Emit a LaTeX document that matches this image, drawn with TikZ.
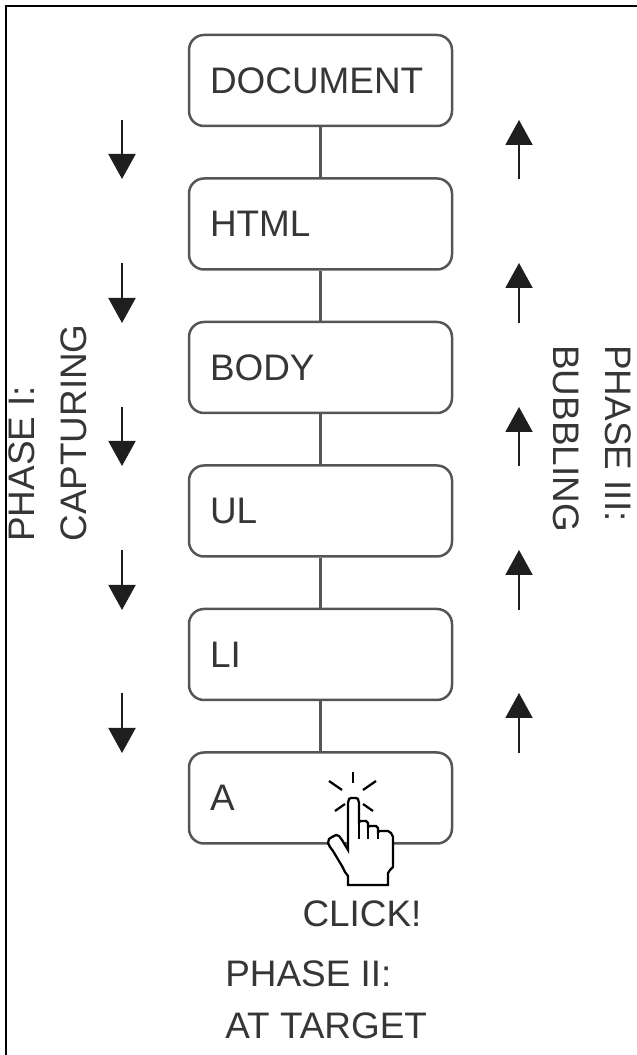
\documentclass[tikz,border=0pt]{standalone}
\usepackage{fontspec}
\setmainfont{Liberation Sans}
\usetikzlibrary{arrows.meta}
\definecolor{boxgray}{HTML}{555555}
\definecolor{textgray}{HTML}{363636}
\definecolor{arrowblack}{HTML}{1E1E1E}
\tikzset{
	elembox/.style={draw=boxgray, line width=0.05cm, rounded corners=0.3cm, minimum width=5.26cm, minimum height=1.82cm, text width=4.42cm, align=left, inner xsep=0.42cm, inner ysep=0pt, text=textgray, font=\fontsize{21}{30}\selectfont},
	link/.style={draw=boxgray, line width=0.05cm},
	flowarrow/.style={draw=arrowblack, line width=0.04cm, -{Triangle[width=0.54cm, length=0.5cm]}},
	phaselabel/.style={inner sep=0pt, align=left, text=textgray, font=\fontsize{21}{30}\selectfont},
	handline/.style={line width=0.045cm, draw=black}
}

\begin{document}
\begin{tikzpicture}
		%%%%% FRAME %%%%%
		\useasboundingbox (0, 0) rectangle (12.74, 21.1);
		\draw[line width=0.04cm] (0.114, 0) -- (0.114, 20.986) -- (12.74, 20.986);
		
		%%%%% ELEMENTS %%%%%
		\node[elembox] (doc) at (6.41, 19.49) {DOCUMENT};
		\node[elembox] (html) at (6.41, 16.62) {HTML};
		\node[elembox] (body) at (6.41, 13.75) {BODY};
		\node[elembox] (ul) at (6.41, 10.88) {UL};
		\node[elembox] (li) at (6.41, 8.01) {LI};
		\node[elembox] (a) at (6.41, 5.14) {A};
		
		\draw[link] (doc.south) -- (html.north);
		\draw[link] (html.south) -- (body.north);
		\draw[link] (body.south) -- (ul.north);
		\draw[link] (ul.south) -- (li.north);
		\draw[link] (li.south) -- (a.north);
		
		%%%%% CAPTURING %%%%%
		\draw[flowarrow] (2.44, 18.7) -- (2.44, 17.52);
		\draw[flowarrow] (2.44, 15.84) -- (2.44, 14.64);
		\draw[flowarrow] (2.44, 12.96) -- (2.44, 11.78);
		\draw[flowarrow] (2.44, 10.1) -- (2.44, 8.9);
		\draw[flowarrow] (2.44, 7.24) -- (2.44, 6.04);
		
		%%%%% BUBBLING %%%%%
		\draw[flowarrow] (10.38, 17.52) -- (10.38, 18.7);
		\draw[flowarrow] (10.38, 14.64) -- (10.38, 15.84);
		\draw[flowarrow] (10.38, 11.78) -- (10.38, 12.96);
		\draw[flowarrow] (10.38, 8.9) -- (10.38, 10.1);
		\draw[flowarrow] (10.38, 6.04) -- (10.38, 7.24);
		
		\node[phaselabel, rotate=90, anchor=north west] (capture) at (0.16, 10.26) {PHASE I:\\CAPTURING};
		\node[phaselabel, rotate=-90, anchor=north west] (bubble) at (12.64, 14.2) {PHASE III:\\BUBBLING};
		
		%%%%% HAND %%%%%
		\begin{scope}[shift={(7.06, 5.1)}, x=0.02cm, y=-0.02cm]
			\draw[handline] (0, -28) -- (0, -17);
			\draw[handline] (-24, -19) -- (-11, -10);
			\draw[handline] (10, -10) -- (23, -19);
			\draw[handline] (-18, 11) -- (-8, 4);
			\draw[handline] (10, 4) -- (20, 11);
			\draw[handline, fill=white] (-5, 3) -- (-4, -1) -- (-2, -2) -- (3, -2) -- (5, -1) -- (6, 3) -- (6, 22) -- (8, 21) -- (13, 21) -- (15, 23) -- (15, 27) -- (17, 26) -- (23, 26) -- (25, 28) -- (25, 32) -- (27, 31) -- (35, 31) -- (38, 33) -- (40, 37) -- (40, 67) -- (37, 70) -- (35, 73) -- (35, 85) -- (-5, 85) -- (-5, 76) -- (-8, 72) -- (-11, 66) -- (-14, 61) -- (-17, 56) -- (-20, 51) -- (-23, 47) -- (-25, 43) -- (-24, 39) -- (-21, 37) -- (-17, 35) -- (-14, 36) -- (-11, 40) -- (-8, 45) -- (-5, 50) -- cycle;
			\draw[handline] (6, 22) -- (6, 39);
			\draw[handline] (15, 27) -- (15, 39);
			\draw[handline] (25, 32) -- (25, 39);
		\end{scope}
		
		\node[phaselabel, anchor=north] (click) at (7.24, 3.1) {CLICK!};
		\node[phaselabel, anchor=north west] (target) at (4.5, 1.9) {PHASE II:\\AT TARGET};
		%%%%% END %%%%%
\end{tikzpicture}
\end{document}
